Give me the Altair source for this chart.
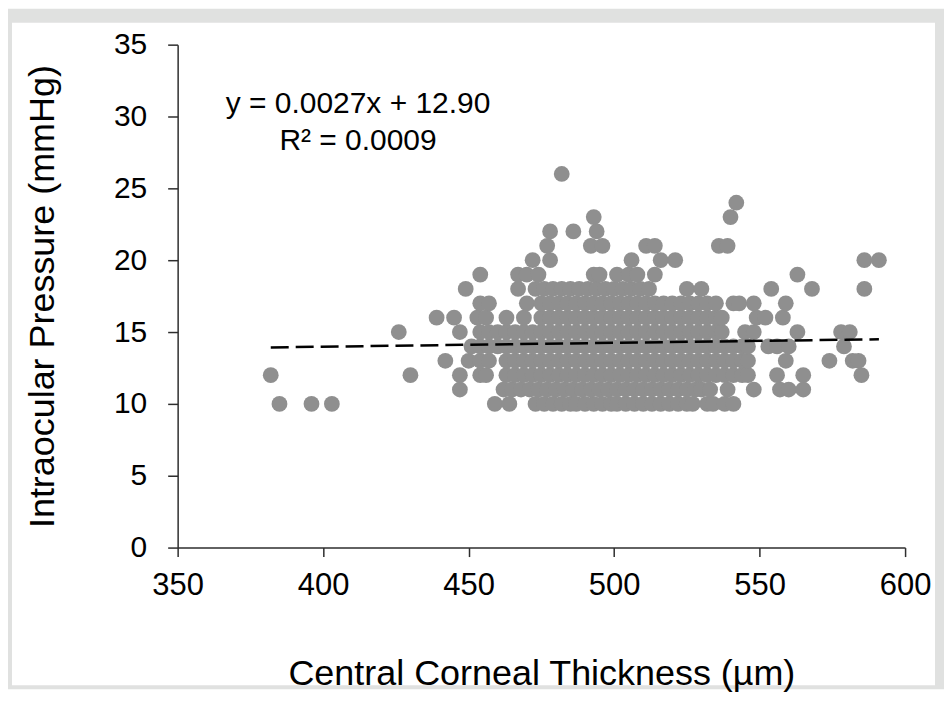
import altair as alt
import pandas as pd

# Central corneal thickness (µm) values at each intraocular pressure level (mmHg)
cct_iop10 = [385, 396, 403, 459, 464, 473, 476, 479, 482, 485, 487, 490, 493, 496, 499, 501,
             504, 507, 510, 513, 516, 519, 522, 525, 527, 532, 534, 538, 541]
cct_iop11 = [447, 462, 465, 468, 471, 474, 477, 480, 483, 486, 489, 492, 495, 498, 501, 504,
             507, 510, 513, 516, 519, 522, 525, 528, 530, 533, 539, 548, 557, 560, 565]
cct_iop12 = [382, 430, 447, 454, 456, 463, 466, 469, 472, 475, 478, 481, 484, 487, 490, 493,
             496, 499, 502, 505, 508, 511, 514, 517, 520, 523, 526, 529, 532, 535, 538, 541,
             544, 546, 556, 565, 585]
cct_iop13 = [442, 450, 454, 457, 463, 466, 469, 472, 475, 478, 481, 484, 487, 490, 493, 496,
             499, 502, 505, 508, 511, 514, 517, 520, 523, 526, 529, 532, 535, 538, 541, 544,
             546, 559, 574, 582, 584]
cct_iop14 = [451, 454, 457, 460, 463, 466, 469, 472, 475, 478, 481, 484, 487, 490, 493, 496,
             499, 502, 505, 508, 511, 514, 517, 520, 523, 526, 529, 532, 535, 538, 541, 544,
             546, 553, 556, 560, 579]
cct_iop15 = [426, 447, 454, 457, 460, 463, 466, 469, 472, 475, 478, 481, 484, 487, 490, 493,
             496, 499, 502, 505, 508, 511, 514, 517, 520, 523, 526, 529, 532, 535, 537, 545,
             548, 563, 578, 581]
cct_iop16 = [439, 445, 453, 456, 463, 469, 475, 478, 481, 484, 487, 490, 493, 496, 499, 502,
             505, 508, 511, 514, 517, 520, 523, 526, 529, 532, 535, 537, 549, 552, 558]
cct_iop17 = [454, 457, 470, 475, 478, 481, 484, 487, 490, 493, 496, 499, 502, 505, 508, 511,
             514, 517, 520, 523, 526, 529, 532, 535, 541, 543, 548, 559]
cct_iop18 = [449, 467, 473, 476, 479, 482, 485, 488, 491, 494, 497, 500, 503, 506, 509, 512,
             525, 530, 554, 568, 586]
cct_iop19 = [454, 467, 470, 474, 493, 495, 501, 505, 508, 514, 563]
cct_iop20 = [472, 478, 506, 516, 521, 586, 591]
cct_iop21 = [477, 492, 496, 511, 514, 536, 539]
cct_iop22 = [478, 486, 494]
cct_iop23 = [493, 540]
cct_iop24 = [542]
cct_iop26 = [482]

iop_levels = [10, 11, 12, 13, 14, 15, 16, 17, 18, 19, 20, 21, 22, 23, 24, 26]
cct_by_level = [cct_iop10, cct_iop11, cct_iop12, cct_iop13, cct_iop14, cct_iop15, cct_iop16,
                cct_iop17, cct_iop18, cct_iop19, cct_iop20, cct_iop21, cct_iop22, cct_iop23,
                cct_iop24, cct_iop26]

# Stated regression
slope = 0.0027
intercept = 12.90
eq_lines = ["y = 0.0027x + 12.90", "R² = 0.0009"]

x_ticks = [350, 400, 450, 500, 550, 600]
y_ticks = [0, 5, 10, 15, 20, 25, 30, 35]

rows = []
for lvl, xs in zip(iop_levels, cct_by_level):
    for xv in xs:
        rows.append({"cct": xv, "iop": lvl})
pts = pd.DataFrame(rows)

x_lo, x_hi = pts["cct"].min(), pts["cct"].max()
line_df = pd.DataFrame({"cct": [x_lo, x_hi],
                        "iop": [slope * x_lo + intercept, slope * x_hi + intercept]})

ann_df = pd.DataFrame({"text": eq_lines, "cct": [412, 412], "iop": [30.9, 28.3]})

FONT = "Liberation Sans"
AX = "#2e2e2e"

x_scale = alt.Scale(domain=[350, 600], nice=False, zero=False)
y_scale = alt.Scale(domain=[0, 35], nice=False)

x_axis = alt.Axis(values=x_ticks, title="Central Corneal Thickness (µm)", grid=False,
                  labelFontSize=31, labelFont=FONT, labelColor="black", labelPadding=14,
                  tickSize=9, tickColor=AX, tickWidth=1.5, domainColor=AX, domainWidth=1.5,
                  titleFont=FONT, titleFontSize=36, titleFontWeight="normal",
                  titleColor="black", titlePadding=56, labelFlush=False, zindex=2)
y_axis = alt.Axis(values=y_ticks, title="Intraocular Pressure (mmHg)", grid=False,
                  labelFontSize=30, labelFont=FONT, labelColor="black", labelPadding=21,
                  tickSize=10, tickColor=AX, tickWidth=1.5, domainColor=AX, domainWidth=1.5,
                  titleFont=FONT, titleFontSize=36, titleFontWeight="normal",
                  titleColor="black", titlePadding=52, labelFlush=False, zindex=2)

one = pd.DataFrame({"k": [0]})
frame = alt.Chart(one).mark_rect(color="#e0e1e0").encode(
    x=alt.value(-170), x2=alt.value(768), y=alt.value(-36), y2=alt.value(646))
inner = alt.Chart(one).mark_rect(color="white").encode(
    x=alt.value(-166), x2=alt.value(759), y=alt.value(-22), y2=alt.value(642))

points = alt.Chart(pts).mark_circle(size=250, color="#8f8f8f", opacity=1).encode(
    x=alt.X("cct:Q", scale=x_scale, axis=x_axis),
    y=alt.Y("iop:Q", scale=y_scale, axis=y_axis),
)

trend = alt.Chart(line_df).mark_line(color="black", strokeWidth=2.5, strokeDash=[18, 7]).encode(
    x=alt.X("cct:Q", scale=x_scale),
    y=alt.Y("iop:Q", scale=y_scale),
)

ann = alt.Chart(ann_df).mark_text(font=FONT, fontSize=30, color="black", align="center",
                                  baseline="middle").encode(
    x=alt.X("cct:Q", scale=x_scale),
    y=alt.Y("iop:Q", scale=y_scale),
    text="text:N",
)

chart = alt.layer(frame, inner, points, trend, ann).properties(
    width=729, height=504, padding=0, background="white"
).configure_view(strokeWidth=0)

chart.save("out.html", embed_options={"renderer": "svg", "actions": False})
